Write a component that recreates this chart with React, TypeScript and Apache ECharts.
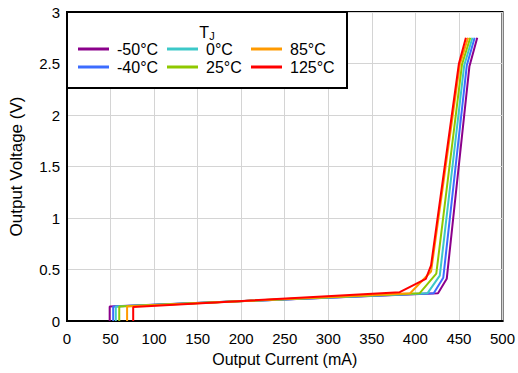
import React, { useEffect, useRef } from "react";
import * as echarts from "echarts";

const seriesNames = ["-50°C", "-40°C", "0°C", "25°C", "85°C", "125°C"];
const seriesColors = ["#8B008B", "#3C6CFF", "#3CC8C8", "#8FC800", "#FF9A00", "#FF0000"];

const dataM50: number[][] = [[49, 0], [49, 0.14], [426, 0.27], [436, 0.41], [462, 2.47], [471, 2.75]];
const dataM40: number[][] = [[53, 0], [53, 0.14], [421, 0.27], [432, 0.42], [459, 2.48], [468, 2.75]];
const data0: number[][] = [[56, 0], [56, 0.14], [414, 0.27], [428, 0.44], [456, 2.48], [465.5, 2.75]];
const data25: number[][] = [[60, 0], [60, 0.14], [405, 0.27], [424, 0.46], [453.5, 2.49], [463, 2.75]];
const data85: number[][] = [[69, 0], [69, 0.14], [394, 0.27], [418, 0.48], [451, 2.49], [460.5, 2.75]];
const data125: number[][] = [[76, 0], [76, 0.135], [382, 0.28], [412, 0.41], [418, 0.54], [450, 2.5], [458, 2.75]];

const allData = [dataM50, dataM40, data0, data25, data85, data125];

const xMin = 0, xMax = 500, xStep = 50;
const yMin = 0, yMax = 3, yStep = 0.5;

export default function App() {
  const ref = useRef<HTMLDivElement>(null);
  useEffect(() => {
    if (!ref.current) return;
    const chart = echarts.init(ref.current, undefined, { renderer: "svg" });
    const font = "'Liberation Sans', Arial, sans-serif";
    const legendCols = [
      { names: [seriesNames[0], seriesNames[1]], left: 78 },
      { names: [seriesNames[2], seriesNames[3]], left: 167 },
      { names: [seriesNames[4], seriesNames[5]], left: 251 },
    ];
    chart.setOption({
      animation: false,
      backgroundColor: "#ffffff",
      textStyle: { fontFamily: font },
      grid: {
        left: 67, right: 14, top: 12, bottom: 52,
        show: true, borderColor: "#000", borderWidth: 2,
      },
      xAxis: {
        type: "value", min: xMin, max: xMax, interval: xStep,
        name: "Output Current (mA)", nameLocation: "middle", nameGap: 30,
        nameTextStyle: { fontSize: 16, color: "#000", fontFamily: font },
        axisLine: { show: true, lineStyle: { color: "#000", width: 2 } },
        axisTick: { show: false },
        axisLabel: { fontSize: 15, color: "#000", margin: 10, fontFamily: font },
        splitLine: { show: true, lineStyle: { color: "#d4d4d4", width: 1 } },
      },
      yAxis: {
        type: "value", min: yMin, max: yMax, interval: yStep,
        name: "Output Voltage (V)", nameLocation: "middle", nameGap: 42,
        nameTextStyle: { fontSize: 17, color: "#000", fontFamily: font },
        axisLine: { show: true, lineStyle: { color: "#000", width: 2 } },
        axisTick: { show: false },
        axisLabel: { fontSize: 15, color: "#000", margin: 7, fontFamily: font },
        splitLine: { show: true, lineStyle: { color: "#d4d4d4", width: 1 } },
      },
      legend: legendCols.map((c) => ({
        data: c.names,
        orient: "vertical",
        left: c.left,
        top: 41,
        z: 5,
        icon: "rect",
        itemWidth: 31,
        itemHeight: 3,
        itemGap: 2,
        padding: 0,
        textStyle: { fontSize: 16, color: "#000", fontFamily: font, padding: [0, 0, 0, 3] },
      })),
      graphic: [
        {
          type: "rect", z: 3,
          shape: { x: 67, y: 12, width: 280, height: 76 },
          style: { fill: "#fff", stroke: "#000", lineWidth: 2 },
        },
        {
          type: "text", z: 4, x: 207, y: 32,
          style: {
            text: "{t|T}{s|J}",
            align: "center", verticalAlign: "middle",
            rich: {
              t: { fontSize: 16, fill: "#000", fontFamily: font },
              s: { fontSize: 11, fill: "#000", fontFamily: font, padding: [8, 0, 0, 0] },
            },
          },
        },
      ],
      series: allData.map((d, i) => ({
        name: seriesNames[i],
        type: "line",
        data: d,
        showSymbol: false,
        symbol: "none",
        color: seriesColors[i],
        lineStyle: { width: 2, color: seriesColors[i] },
        z: 2,
      })),
    });
    return () => chart.dispose();
  }, []);
  return <div ref={ref} style={{ width: 518, height: 373, position: "absolute", left: 0, top: 0 }} />;
}
